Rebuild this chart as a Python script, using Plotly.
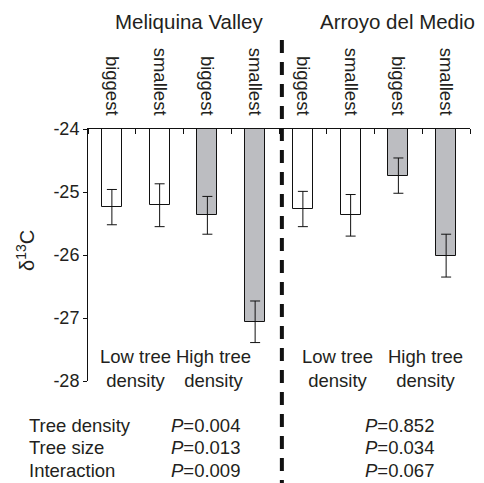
import plotly.graph_objects as go

# ---- data ----
tree_size = ["biggest", "smallest", "biggest", "smallest", "biggest", "smallest", "biggest", "smallest"]
tree_density = ["low", "low", "high", "high", "low", "low", "high", "high"]
delta13c = [-25.24, -25.21, -25.37, -27.06, -25.27, -25.37, -24.74, -26.01]
std_err = [0.28, 0.34, 0.30, 0.33, 0.28, 0.33, 0.28, 0.34]
sites = ["Meliquina Valley", "Arroyo del Medio"]
y_ticks = [-24, -25, -26, -27, -28]
y_tick_text = ["-24", "-25", "-26", "-27", "-28"]
density_labels = ["Low tree<br>density", "High tree<br>density", "Low tree<br>density", "High tree<br>density"]
stat_terms = ["Tree density", "Tree size", "Interaction"]
p_meliquina = ["0.004", "0.013", "0.009"]
p_arroyo = ["0.852", "0.034", "0.067"]

BASE = -24
FONT = "Liberation Sans, Arial, sans-serif"
TXT = "#231f20"
fill_map = {"low": "#ffffff", "high": "#bcbdc1"}

OFF = 8  # page body margin
W, H = 484 - OFF, 483 - OFF
# plot area in page pixels: x 88..470, y 129..381
L = 88 - OFF
R = W - (470 - OFF)
T = 129 - OFF
B = H - (381 - OFF)
plot_w = W - L - R
plot_h = H - T - B

def py_paper(page_y):
    return ((H - B) - (page_y - OFF)) / plot_h

def px_paper(page_x):
    return ((page_x - OFF) - L) / plot_w

xs = list(range(len(delta13c)))

fig = go.Figure()
fig.add_trace(go.Bar(
    x=xs,
    y=[v - BASE for v in delta13c],
    base=BASE,
    width=0.42,
    marker=dict(color=[fill_map[d] for d in tree_density], line=dict(color="#111", width=1)),
    error_y=dict(type="data", array=std_err, visible=True, color="#111", thickness=1, width=5),
    showlegend=False,
))

fig.update_layout(
    width=W, height=H,
    margin=dict(l=L, r=R, t=T, b=B),
    plot_bgcolor="white", paper_bgcolor="white",
    font=dict(family=FONT, color=TXT, size=18),
    bargap=0,
)
fig.update_xaxes(
    range=[-0.5, 7.5], side="top", showline=True, linecolor="#111", linewidth=1,
    tickvals=xs, ticktext=tree_size, tickangle=90, ticks="", showgrid=False, zeroline=False,
    tickfont=dict(size=18.5), ticklabelstandoff=6,
    minor=dict(tickvals=[i - 0.5 for i in range(len(xs) + 1)], ticks="inside", ticklen=5,
               tickcolor="#111", showgrid=False),
)
fig.update_yaxes(
    range=[-28, -24], showline=True, linecolor="#111", linewidth=1, showgrid=False,
    zeroline=False, tickvals=y_ticks, ticktext=y_tick_text, ticks="outside", ticklen=4,
    tickcolor="#111", tickfont=dict(size=18),
)

# dashed separator
sep_x = 3.56
fig.add_shape(type="line", xref="x", yref="paper", x0=sep_x, x1=sep_x,
              y0=py_paper(40), y1=py_paper(484),
              line=dict(color="#111", width=4, dash="13px,9px"))

ann = []
# site titles
ann.append(dict(text=sites[0], x=px_paper(189), y=py_paper(22), size=20.5))
ann.append(dict(text=sites[1], x=px_paper(397), y=py_paper(22), size=20.5))
# y title
ann.append(dict(text="δ<sup>13</sup>C", x=px_paper(25), y=py_paper(251), textangle=-90, size=20))
# density labels
for lab, cx in zip(density_labels, [135, 213, 337, 425]):
    ann.append(dict(text=lab, x=px_paper(cx), y=py_paper(368)))
# stats rows
for i, (term, p1, p2) in enumerate(zip(stat_terms, p_meliquina, p_arroyo)):
    py = 425 + i * 22.5
    ann.append(dict(text=term, x=px_paper(27), y=py_paper(py), xanchor="left"))
    ann.append(dict(text="<i>P</i>=" + p1, x=px_paper(205), y=py_paper(py)))
    ann.append(dict(text="<i>P</i>=" + p2, x=px_paper(399), y=py_paper(py)))

for a in ann:
    size = a.pop("size", 18.5)
    fig.add_annotation(xref="paper", yref="paper", showarrow=False,
                       xanchor=a.pop("xanchor", "center"), yanchor="middle",
                       font=dict(family=FONT, size=size, color=TXT), **a)

fig.write_html("out.html")
